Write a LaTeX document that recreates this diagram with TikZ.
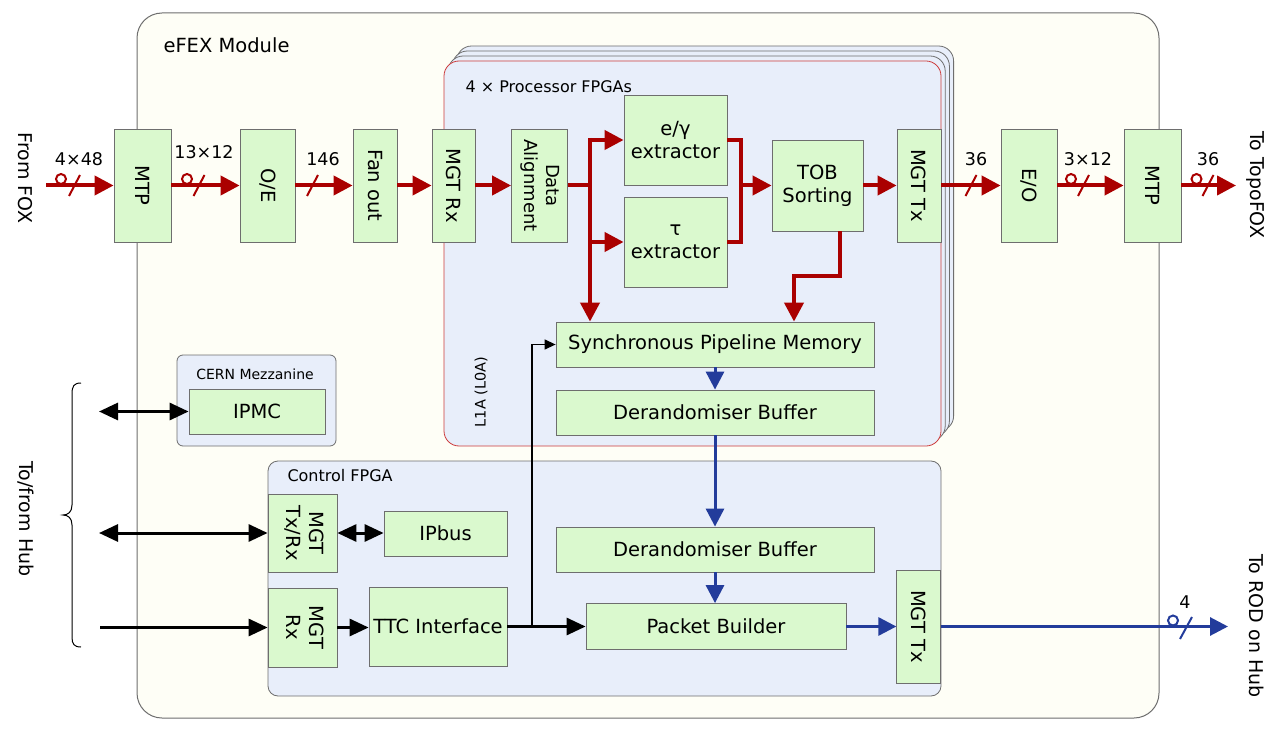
\documentclass[tikz,border=0pt]{standalone}
\usepackage{fontspec}
\setmainfont{DejaVu Sans}
\usepackage{graphicx}
\usetikzlibrary{arrows.meta}
\definecolor{redc}{RGB}{170,0,0}
\definecolor{bluec}{RGB}{35,60,155}
\definecolor{boxg}{RGB}{218,249,206}
\definecolor{panelb}{RGB}{232,238,250}
\definecolor{cream}{RGB}{254,254,246}
\definecolor{edge}{RGB}{110,110,110}
\definecolor{redbord}{RGB}{205,60,60}
\newcommand\fsz[2]{\fontsize{#1}{#2}\selectfont}
\newcommand\rot[1]{\rotatebox{-90}{#1}}
\newcommand\two[2]{\rotatebox{-90}{\begin{tabular}{@{}c@{}}#1\\#2\end{tabular}}}
\begin{document}
\begin{tikzpicture}[x=1pt,y=-1pt,
  blk/.style={draw=edge, fill=boxg, line width=0.8pt, inner sep=0pt, font=\fsz{19.5}{23}, align=center},
  panel/.style={draw=edge, fill=panelb, line width=0.8pt},
  redln/.style={draw=redc, line width=4pt},
  redarr/.style={redln, -{Triangle[length=19pt,width=19pt]}},
  bluearr/.style={draw=bluec, line width=3pt, -{Triangle[length=18pt,width=18pt]}},
  blkarr/.style={draw=black, line width=3pt, -{Triangle[length=19pt,width=17pt]}},
  blkdbl/.style={draw=black, line width=3pt, {Triangle[length=19pt,width=17pt]}-{Triangle[length=19pt,width=17pt]}},
  thinarr/.style={draw=black, line width=1.3pt, -{Triangle[length=11pt,width=10pt]}},
  redbus/.style={draw=redc, line width=2pt},
  bluebus/.style={draw=bluec, line width=2pt},
  lbl/.style={font=\fsz{17.5}{20}},
  side/.style={font=\fsz{19}{23}}
]
\useasboundingbox (0,0) rectangle (1274,730);

% eFEX module
\draw[edge, fill=cream, line width=1pt, rounded corners=25pt] (137,13) rectangle (1159,718);
\node[anchor=west, font=\fsz{19.5}{23}] (efexlbl) at (160,45) {eFEX Module};

% processor FPGA stack
\foreach \i in {3,2,1}
  \draw[panel, rounded corners=15pt] ({444+4.2*\i},{61-5*\i}) rectangle ({941+4.2*\i},{446-5*\i});
\draw[draw=redbord, fill=panelb, line width=0.8pt, rounded corners=15pt] (444,61) rectangle (941,446);
\node[anchor=west, font=\fsz{16}{19}] (proclbl) at (462,87) {4 × Processor FPGAs};
\node[rotate=90, font=\fsz{14.5}{17}] (l1a) at (481,392) {L1A (L0A)};

% CERN mezzanine
\draw[panel, rounded corners=6pt] (177,355) rectangle (336,446);
\node[font=\fsz{14}{17}] (cernlbl) at (255,374) {CERN Mezzanine};

% Control FPGA
\draw[panel, rounded corners=10pt] (268,461) rectangle (941,696);
\node[anchor=west, font=\fsz{16}{19}] (ctrllbl) at (284,476) {Control FPGA};

% side texts
\node[side, rotate=-90] (fromfox) at (25,178) {From FOX};
\node[side, rotate=-90] (topofox) at (1256,185) {To TopoFOX};
\node[side, rotate=-90] (tohub) at (26,519) {To/from Hub};
\node[side, rotate=-90] (torod) at (1257,626) {To ROD on Hub};

% brace
\draw[black, line width=1pt] (81,383) .. controls (74,383) and (72,386) .. (72,394) -- (72,505)
  .. controls (72,512) and (68,515) .. (63,515) .. controls (68,515) and (72,518) .. (72,525)
  -- (72,637) .. controls (72,644) and (74,647) .. (81,647);

% top row boxes
\node[blk, minimum width=57pt, minimum height=113pt] (mtpA) at (142.5,185.5) {\rot{MTP}};
\node[blk, minimum width=55pt, minimum height=113pt] (oe) at (267.5,185.5) {\rot{O/E}};
\node[blk, minimum width=44pt, minimum height=113pt] (fan) at (375,185.5) {\rot{Fan out}};
\node[blk, minimum width=43pt, minimum height=113pt] (mgtrx) at (453.5,185.5) {\rot{MGT Rx}};
\node[blk, minimum width=56pt, minimum height=113pt, font=\fsz{18}{22}] (dal) at (539.5,185.5) {\two{Data}{Alignment}};
\node[blk, minimum width=103pt, minimum height=90pt] (eg) at (675.5,140) {e/γ\\extractor};
\node[blk, minimum width=103pt, minimum height=90pt] (tau) at (675.5,242) {τ\\extractor};
\node[blk, minimum width=91pt, minimum height=91pt] (tob) at (817.5,185.5) {TOB\\Sorting};
\node[blk, minimum width=44pt, minimum height=113pt] (mgttxA) at (919,185.5) {\rot{MGT Tx}};
\node[blk, minimum width=56pt, minimum height=113pt] (eo) at (1029,185.5) {\rot{E/O}};
\node[blk, minimum width=57pt, minimum height=113pt] (mtpB) at (1152.5,185.5) {\rot{MTP}};

% pipeline boxes
\node[blk, minimum width=318pt, minimum height=45pt] (sync) at (715,344.5) {Synchronous Pipeline Memory};
\node[blk, minimum width=318pt, minimum height=45pt] (der1) at (715,412.5) {Derandomiser Buffer};
\node[blk, minimum width=318pt, minimum height=45pt] (der2) at (715,549.5) {Derandomiser Buffer};
\node[blk, minimum width=260pt, minimum height=46pt] (pkt) at (716,626.5) {Packet Builder};
\node[blk, minimum width=43.5pt, minimum height=113pt] (mgttxB) at (918.5,626.5) {\rot{MGT Tx}};

% control boxes
\node[blk, minimum width=136pt, minimum height=45pt] (ipmc) at (257,411.5) {IPMC};
\node[blk, minimum width=69pt, minimum height=78pt] (mgttxrx) at (302.5,533) {\two{MGT}{Tx/Rx}};
\node[blk, minimum width=123pt, minimum height=45pt] (ipbus) at (445.5,533.5) {IPbus};
\node[blk, minimum width=69pt, minimum height=79pt] (mgtrxB) at (302.5,627.5) {\two{MGT}{Rx}};
\node[blk, minimum width=138pt, minimum height=79pt] (ttc) at (438,626.5) {TTC Interface};

% red data path
\coordinate (fox) at (46,185.5);
\coordinate (br) at (590,185.5);
\coordinate (jn) at (741,185.5);
\coordinate (topo) at (1236,185.5);
\draw[redarr] (fox) -- (mtpA.west);
\draw[redarr] (mtpA.east) -- (oe.west);
\draw[redarr] (oe.east) -- (fan.west);
\draw[redarr] (fan.east) -- (mgtrx.west);
\draw[redarr] (mgtrx.east) -- (dal.west);
\draw[redln] (dal.east) -- (br);
\draw[redarr, shorten <=-2pt] (br |- eg.west) -- (eg.west);
\draw[redarr, shorten <=-2pt] (br |- tau.west) -- (tau.west);
\draw[redarr, shorten <=-2pt] (br |- eg.west) -- (br |- sync.north);
\draw[redln] (eg.east) -| (jn) |- (tau.east);
\draw[redarr] (jn) -- (tob.west);
\draw[redarr] (tob.east) -- (mgttxA.west);
\draw[redarr] (mgttxA.east) -- (eo.west);
\draw[redarr] (eo.east) -- (mtpB.west);
\draw[redarr] (mtpB.east) -- (topo);
\draw[redarr] ([xshift=22.5pt]tob.south) -- ++(0,45) -| ([xshift=79pt]sync.north);

% bus marks (red)
\draw[redbus] (61,179) circle[radius=5pt];
\draw[redbus] (69,196) -- (80,175);
\draw[redbus] (187,179) circle[radius=5pt];
\draw[redbus] (193.5,196) -- (204.5,175);
\draw[redbus] (307,196) -- (318,175);
\draw[redbus] (965.5,196) -- (976.5,175);
\draw[redbus] (1071,179) circle[radius=5pt];
\draw[redbus] (1078,196) -- (1089,175);
\draw[redbus] (1196.5,179) circle[radius=5pt];
\draw[redbus] (1202.5,196) -- (1213.5,175);
\node[lbl] (l1) at (79,159) {4×48};
\node[lbl] (l2) at (204,152) {13×12};
\node[lbl] (l3) at (323,159) {146};
\node[lbl] (l4) at (976,159) {36};
\node[lbl] (l5) at (1088,159) {3×12};
\node[lbl] (l6) at (1208,159) {36};

% blue readout path
\coordinate (rod) at (1228,626.5);
\draw[bluearr] (sync.south) -- (der1.north);
\draw[bluearr] (der1.south) -- (der2.north);
\draw[bluearr] (der2.south) -- (der2.south |- pkt.north);
\draw[bluearr] (pkt.east) -- (mgttxB.west);
\draw[bluearr] (mgttxB.east) -- (rod);
\draw[bluebus] (1173,620.5) circle[radius=5pt];
\draw[bluebus] (1180,639) -- (1192,617);
\node[lbl] (l7) at (1185,602) {4};

% black control paths
\coordinate (h1) at (99,411.5);
\coordinate (h2) at (99,533);
\coordinate (h3) at (100,627.5);
\coordinate (tap) at (532,626.5);
\draw[blkdbl] (h1) -- (ipmc.west);
\draw[blkdbl] (h2) -- (mgttxrx.west);
\draw[blkdbl] (mgttxrx.east) -- (mgttxrx.east -| ipbus.west);
\draw[blkarr] (h3) -- (mgtrxB.west);
\draw[blkarr] (mgtrxB.east) -- (mgtrxB.east -| ttc.west);
\draw[blkarr] (ttc.east) -- (ttc.east -| pkt.west);
\draw[thinarr] (tap) |- (sync.west);
\end{tikzpicture}
\end{document}
